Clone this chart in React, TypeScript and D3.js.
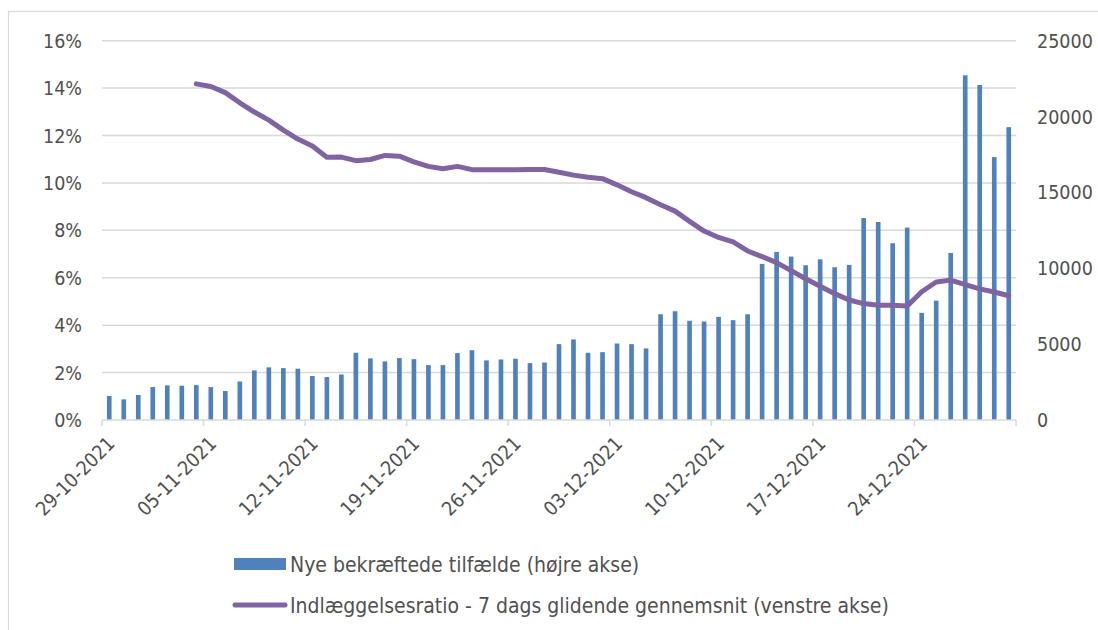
import { useEffect, useRef } from "react"
import * as d3 from 'd3'

// daily categories 29-10-2021 .. 30-12-2021
const days = d3.timeDay.range(new Date(2021, 9, 29), new Date(2021, 11, 31))
const tickLabels = ["29-10-2021", "05-11-2021", "12-11-2021", "19-11-2021", "26-11-2021",
                    "03-12-2021", "10-12-2021", "17-12-2021", "24-12-2021"]

// new confirmed cases (right axis)
const cases = [1580, 1360, 1650, 2170, 2280, 2260, 2300, 2170, 1910, 2540, 3270, 3470, 3420, 3380,
    2900, 2830, 3000, 4430, 4060, 3860, 4080, 4010, 3620, 3620, 4410, 4600, 3930, 3990,
    4040, 3750, 3790, 5000, 5310, 4430, 4470, 5040, 5000, 4720, 6970, 7170, 6540, 6490,
    6800, 6580, 6970, 10290, 11080, 10770, 10200, 10590, 10070, 10220, 13310, 13050, 11650, 12680,
    7060, 7870, 11010, 22720, 22080, 17330, 19300]

// admission ratio, 7 day rolling average, % (left axis)
const ratio: (number | null)[] = [null, null, null, null, null, null,
    14.18, 14.07, 13.81, 13.38, 12.99, 12.65, 12.23, 11.85, 11.56, 11.08, 11.09, 10.94, 10.99, 11.16,
    11.13, 10.89, 10.70, 10.60, 10.70, 10.56, 10.56, 10.56, 10.56, 10.57, 10.57, 10.45, 10.33, 10.24,
    10.18, 9.92, 9.63, 9.38, 9.08, 8.81, 8.38, 7.97, 7.70, 7.51, 7.13, 6.89, 6.64, 6.30,
    5.96, 5.64, 5.33, 5.06, 4.91, 4.84, 4.84, 4.81, 5.41, 5.82, 5.90, 5.71, 5.53, 5.40, 5.24]

const leftTicks = [0, 2, 4, 6, 8, 10, 12, 14, 16]
const rightTicks = [0, 5000, 10000, 15000, 20000, 25000]

const barLabel = "Nye bekræftede tilfælde (højre akse)"
const lineLabel = "Indlæggelsesratio - 7 dags glidende gennemsnit (venstre akse)"

const FONT = "'DejaVu Sans Condensed', 'DejaVu Sans', sans-serif"
const TXT = "#505050"
const BLUE = "#4f81bd"
const PURPLE = "#8064a2"

export default function App() {
    const svgRef = useRef<SVGSVGElement>(null)

    useEffect(() => {
        if (!svgRef.current) return
        const svg = d3.select(svgRef.current)
        svg.selectAll("*").remove()

        const left = 102, right = 1016, top = 40.7, bottom = 420

        svg.append("rect")
            .attr("x", 8.5).attr("y", 11.5).attr("width", 1200).attr("height", 800)
            .attr("fill", "white").attr("stroke", "#d9d9d9").attr("stroke-width", 1.2)

        const x = d3.scaleBand<number>()
            .domain(days.map((_, i) => i))
            .range([left, right])
            .paddingInner(0.68)
            .paddingOuter(0.34)
        const step = x.step()
        const yL = d3.scaleLinear().domain([0, 16]).range([bottom, top])
        const yR = d3.scaleLinear().domain([0, 25000]).range([bottom, top])

        // grid
        svg.append("g").selectAll("line").data(leftTicks.slice(1)).join("line")
            .attr("x1", left).attr("x2", right)
            .attr("y1", d => yL(d)).attr("y2", d => yL(d))
            .attr("stroke", "#d9d9d9").attr("stroke-width", 1.5)

        // left labels
        svg.append("g").selectAll("text").data(leftTicks).join("text")
            .attr("x", 82).attr("y", d => yL(d))
            .attr("dy", "0.36em")
            .attr("text-anchor", "end")
            .attr("font-family", FONT).attr("font-size", 19.5).attr("fill", TXT)
            .text(d => `${d}%`)

        // right labels
        svg.append("g").selectAll("text").data(rightTicks).join("text")
            .attr("x", 1037).attr("y", d => yR(d))
            .attr("dy", "0.36em")
            .attr("text-anchor", "start")
            .attr("font-family", FONT).attr("font-size", 19.5).attr("fill", TXT)
            .text(d => d)

        // bars
        svg.append("g").selectAll("rect").data(cases).join("rect")
            .attr("x", (_, i) => x(i)!)
            .attr("width", x.bandwidth())
            .attr("y", d => yR(d))
            .attr("height", d => bottom - yR(d))
            .attr("fill", BLUE)

        // x axis with ticks every 7 days
        svg.append("line")
            .attr("x1", left).attr("x2", right).attr("y1", bottom).attr("y2", bottom)
            .attr("stroke", "#d9d9d9").attr("stroke-width", 1.5)
        const tickPos = d3.range(0, days.length + 1, 7)
        svg.append("g").selectAll("line").data(tickPos).join("line")
            .attr("x1", i => left + i * step).attr("x2", i => left + i * step)
            .attr("y1", bottom).attr("y2", bottom + 6)
            .attr("stroke", "#d9d9d9").attr("stroke-width", 1.5)
        svg.append("g").selectAll("text").data(tickLabels).join("text")
            .attr("transform", (_, k) => `translate(${left + k * 7 * step + 9},${bottom + 20}) rotate(-45)`)
            .attr("text-anchor", "end")
            .attr("dy", "0.36em")
            .attr("font-family", FONT).attr("font-size", 19.5).attr("fill", TXT)
            .text(d => d)

        // line
        const line = d3.line<number | null>()
            .defined(d => d !== null)
            .x((_, i) => x(i)! + x.bandwidth() / 2)
            .y(d => yL(d as number))
        svg.append("path")
            .datum(ratio)
            .attr("fill", "none")
            .attr("stroke", PURPLE)
            .attr("stroke-width", 5)
            .attr("stroke-linejoin", "round")
            .attr("stroke-linecap", "round")
            .attr("d", line)

        // legend
        const lg = svg.append("g")
        lg.append("rect").attr("x", 234).attr("y", 558).attr("width", 52).attr("height", 12).attr("fill", BLUE)
        lg.append("text").attr("x", 290).attr("y", 564).attr("dy", "0.36em")
            .attr("font-family", FONT).attr("font-size", 21).attr("fill", TXT).text(barLabel)
        lg.append("line").attr("x1", 235).attr("x2", 285).attr("y1", 605).attr("y2", 605)
            .attr("stroke", PURPLE).attr("stroke-width", 5).attr("stroke-linecap", "round")
        lg.append("text").attr("x", 290).attr("y", 605).attr("dy", "0.36em")
            .attr("font-family", FONT).attr("font-size", 21).attr("fill", TXT).text(lineLabel)
    }, [])

    return <svg ref={svgRef} width={1098} height={630}
                style={{ position: "absolute", left: 0, top: 0, background: "white" }} />
}
